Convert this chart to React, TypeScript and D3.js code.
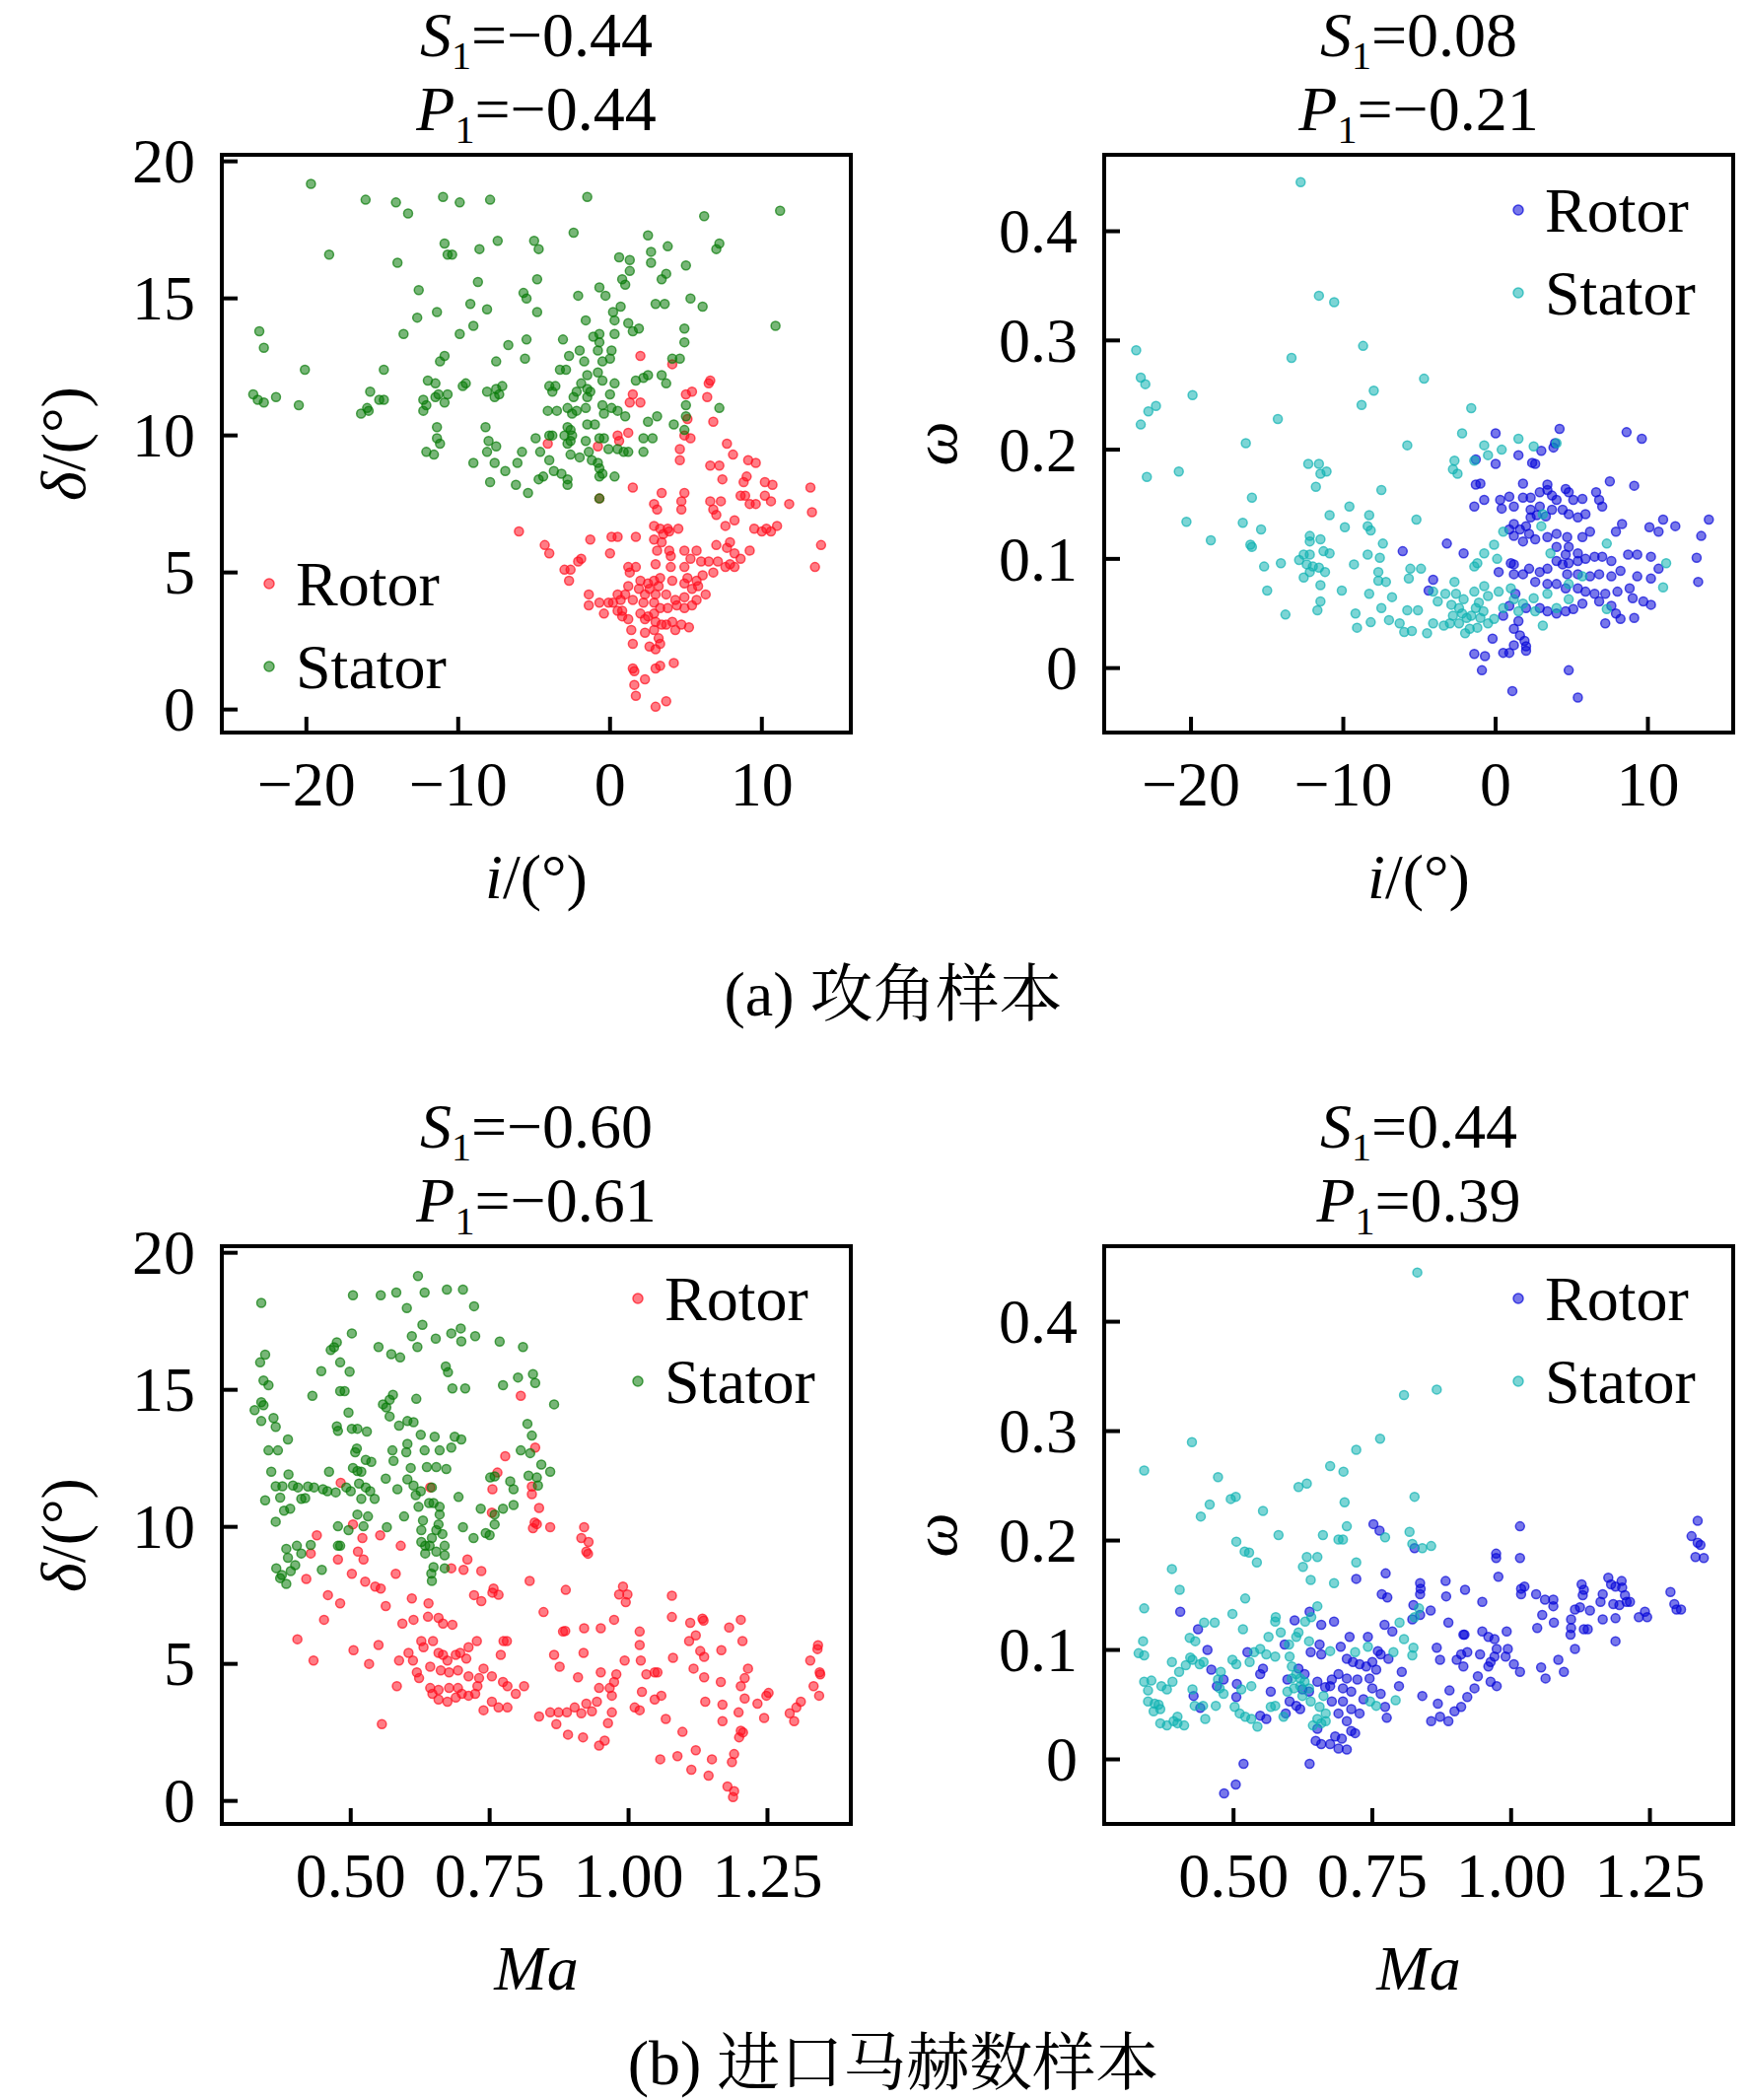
import React from 'react';
import * as d3 from 'd3';

type Pt = [number, number];

// (a) incidence samples: [i, delta] and [i, omega]
const aRotorDelta: Pt[] = [
  [2.0,12.9],[4.1,12.6],[6.5,11.9],[6.6,12.0],[6.4,11.4],[5.0,11.5],[5.4,11.6],[1.5,11.5],[1.3,11.2],[2.0,11.2],[6.8,10.5],[5.1,10.6],[4.9,10.0],[5.3,9.9],[4.6,9.5],[4.6,9.1],[1.2,10.1],[0.5,10.0],[0.6,9.8],[-0.8,9.6],[-4.1,9.7],[7.7,9.7],[8.1,9.3],[9.1,9.1],[9.6,9.0],[6.6,8.9],[7.2,8.9],[7.4,8.4],[9.0,8.5],[8.8,8.3],[10.2,8.3],[10.7,8.2],[13.2,8.1],[13.3,7.2],[11.8,7.5],[8.6,7.8],[8.9,7.8],[9.2,7.5],[9.6,7.5],[10.2,7.8],[10.6,7.6],[6.6,7.6],[7.3,7.6],[6.8,7.3],[7.0,7.1],[8.2,6.9],[7.6,6.7],[9.5,6.6],[10.0,6.5],[10.3,6.6],[11.0,6.7],[10.6,6.5],[1.5,8.1],[-0.7,7.7],[2.9,7.5],[3.4,7.9],[4.9,7.9],[4.7,7.6],[4.7,7.3],[3.1,7.3],[2.9,6.7],[3.3,6.6],[3.8,6.6],[4.5,6.6],[3.5,6.4],[3.9,6.5],[-6.0,6.5],[-1.3,6.2],[0.1,6.3],[0.5,6.3],[1.7,6.3],[2.9,6.2],[3.4,6.1],[-4.3,6.0],[-4.0,5.7],[0.0,5.7],[3.1,5.8],[3.9,5.8],[4.9,5.8],[5.7,5.8],[4.0,5.6],[7.0,6.0],[7.9,6.1],[7.7,5.9],[8.2,5.7],[9.2,5.8],[13.9,6.0],[13.5,5.2],[-2.1,5.4],[-1.9,5.5],[-3.0,5.1],[-2.6,5.1],[-2.7,4.7],[1.2,5.2],[1.7,5.2],[1.3,5.0],[3.0,5.3],[4.0,5.2],[4.9,5.2],[5.3,5.5],[6.0,5.4],[6.5,5.4],[7.1,5.4],[7.9,5.3],[8.6,5.5],[7.6,5.2],[8.2,5.2],[6.8,5.0],[6.1,4.9],[5.7,4.7],[5.1,4.8],[5.8,4.5],[5.4,4.4],[4.9,4.6],[4.1,4.7],[3.3,4.8],[2.9,4.7],[3.2,4.5],[2.5,4.6],[2.0,4.7],[1.9,4.4],[2.6,4.4],[3.0,4.2],[2.3,4.2],[1.2,4.5],[1.0,4.2],[0.5,4.2],[0.2,3.9],[0.7,4.0],[1.5,4.0],[2.2,3.9],[2.9,3.9],[3.7,4.2],[4.3,4.0],[4.9,4.1],[5.7,4.0],[6.3,4.2],[5.4,3.8],[4.9,3.7],[4.4,3.8],[3.8,3.7],[3.3,3.7],[-1.4,4.2],[-1.4,3.8],[-0.7,3.9],[-0.1,3.9],[-0.4,3.5],[0.5,3.6],[0.8,3.6],[0.8,3.4],[1.2,3.3],[2.0,3.5],[2.5,3.4],[2.3,3.3],[2.9,3.5],[3.0,3.2],[3.7,3.1],[3.4,3.1],[4.1,3.2],[4.7,3.1],[5.2,3.0],[1.4,2.9],[2.3,2.8],[2.9,2.9],[3.2,2.6],[4.3,2.9],[3.3,2.4],[3.0,2.2],[2.6,2.3],[1.5,2.4],[1.5,1.5],[1.6,1.4],[2.3,1.1],[3.0,1.5],[3.3,1.6],[4.2,1.7],[1.6,0.9],[1.7,0.5],[3.0,0.1],[3.7,0.3],
];

const aStatorDelta: Pt[] = [
  [-19.7,19.18],[-16.1,18.6],[-14.1,18.5],[-13.3,18.1],[-11.0,18.7],[-9.9,18.5],[-7.9,18.6],[-1.5,18.7],[6.2,18.0],[11.2,18.2],[-18.5,16.6],[-14.0,16.3],[-10.9,17.0],[-10.7,16.6],[-10.4,16.6],[-8.6,16.8],[-7.4,17.1],[-5.0,17.1],[-4.7,16.8],[-2.4,17.4],[2.5,17.3],[3.8,16.9],[2.7,16.7],[2.7,16.3],[0.6,16.5],[1.3,16.4],[1.3,16.0],[0.8,15.7],[1.0,15.5],[5.0,16.2],[3.7,15.9],[3.4,15.7],[7.0,16.8],[7.2,17.0],[-8.7,15.6],[-4.8,15.7],[-12.6,15.3],[-5.7,15.2],[-5.5,15.0],[-9.2,14.8],[-8.1,14.6],[-11.4,14.5],[-12.7,14.3],[-4.8,14.5],[-2.1,15.1],[-0.7,15.4],[-0.3,15.1],[3.0,14.8],[3.6,14.8],[5.3,15.0],[6.1,14.7],[10.9,14.0],[-23.1,13.8],[-22.8,13.2],[-13.6,13.7],[-9.9,13.7],[-9.0,14.0],[-1.6,14.2],[0.2,14.5],[0.7,14.7],[0.3,14.2],[1.2,14.1],[1.9,13.9],[1.5,13.8],[4.9,13.9],[4.9,13.4],[-6.7,13.3],[-5.5,13.5],[-3.1,13.5],[-1.1,13.6],[-0.7,13.7],[0.3,13.7],[-0.7,13.4],[-0.8,13.1],[0.1,13.1],[-2.0,13.1],[-2.7,12.9],[-0.5,12.7],[0.0,12.8],[-1.7,12.7],[-5.6,12.8],[-7.5,12.7],[-10.9,12.9],[-11.2,12.7],[-20.1,12.4],[-14.9,12.4],[-3.3,12.4],[-2.9,12.4],[4.1,12.8],[4.6,12.8],[2.5,12.2],[2.2,12.1],[1.7,12.0],[3.4,12.2],[3.7,11.9],[-1.5,12.2],[-0.8,12.3],[-0.5,12.0],[0.3,11.9],[-1.9,11.9],[-1.5,11.7],[-4.0,11.8],[-3.6,11.8],[-3.8,11.6],[-2.4,11.4],[-2.2,11.6],[-1.3,11.6],[0.0,11.5],[-1.5,11.4],[-9.7,11.8],[-9.5,11.9],[-8.1,11.6],[-7.5,11.7],[-7.3,11.5],[-7.6,11.4],[-7.1,11.8],[-23.5,11.5],[-23.2,11.3],[-22.8,11.2],[-22.0,11.4],[-20.5,11.1],[-15.8,11.6],[-15.2,11.3],[-14.9,11.3],[-16.0,11.0],[-16.4,10.8],[-15.9,10.9],[-12.3,11.3],[-12.1,11.1],[-11.5,11.4],[-11.3,11.5],[-10.9,11.2],[-10.7,11.5],[-12.3,10.9],[-12.0,12.0],[-11.5,11.9],[-4.1,10.9],[-3.5,10.9],[-2.8,11.0],[-2.5,10.8],[-2.2,10.9],[-1.6,11.0],[-0.5,11.1],[-0.4,10.8],[0.1,11.0],[0.5,10.9],[1.0,10.7],[5.0,11.1],[7.2,11.0],[5.0,10.7],[2.5,10.5],[3.1,10.7],[4.2,10.4],[4.9,10.2],[-2.8,10.3],[-2.6,10.2],[-2.5,10.0],[-3.0,10.0],[-2.6,9.8],[-2.8,9.7],[-1.5,10.4],[-1.0,10.4],[-4.0,10.0],[-3.8,10.0],[-4.9,9.9],[-11.4,10.3],[-11.4,9.9],[-11.2,9.7],[-12.1,9.4],[-11.6,9.3],[-8.2,10.3],[-8.0,9.8],[-7.5,9.6],[-8.1,9.4],[-9.0,9.0],[-7.6,9.0],[-6.9,8.7],[-6.2,8.2],[-5.4,7.9],[-5.8,9.4],[-6.1,9.0],[-4.6,9.4],[-4.0,9.1],[-2.6,9.3],[-2.0,9.2],[-1.4,9.4],[-1.2,9.1],[-0.8,9.0],[-0.7,9.9],[-0.4,9.9],[-1.6,9.8],[-0.1,9.5],[0.5,9.5],[0.9,9.4],[1.2,9.4],[2.2,9.4],[2.2,9.9],[2.8,9.9],[-0.7,8.8],[-0.7,8.5],[-0.5,8.6],[0.3,8.5],[-3.7,8.7],[-3.2,8.6],[-2.8,8.4],[-2.8,8.2],[-4.7,8.4],[-4.4,8.5],[-7.9,8.3],[-0.7,7.7],
];

const aRotorOmega: Pt[] = [
  [0.0,0.215],[4.2,0.219],[8.6,0.216],[9.6,0.210],[1.5,0.195],[0.0,0.187],[2.6,0.187],[2.4,0.188],[3.0,0.199],[3.8,0.202],[3.9,0.206],[-1.3,0.191],[-1.3,0.168],[-1.0,0.169],[1.8,0.169],[3.4,0.168],[7.5,0.171],[9.1,0.167],[-1.4,0.148],[-0.75,0.154],[0.3,0.154],[0.4,0.146],[0.9,0.157],[1.2,0.148],[1.8,0.156],[2.3,0.156],[2.9,0.161],[3.4,0.163],[3.7,0.158],[4.0,0.154],[4.6,0.164],[4.8,0.161],[5.1,0.154],[5.7,0.155],[6.6,0.161],[6.8,0.154],[7.0,0.148],[2.3,0.145],[2.9,0.148],[2.7,0.140],[2.3,0.138],[3.3,0.139],[3.7,0.145],[4.4,0.145],[4.8,0.141],[5.4,0.138],[5.9,0.141],[1.2,0.132],[0.9,0.127],[1.6,0.127],[2.0,0.130],[2.2,0.123],[1.2,0.121],[1.8,0.116],[2.6,0.118],[3.4,0.120],[4.0,0.123],[4.7,0.120],[5.7,0.120],[6.2,0.125],[7.9,0.125],[8.3,0.132],[10.1,0.129],[10.7,0.125],[11.0,0.136],[11.8,0.130],[14.0,0.136],[13.5,0.121],[-3.2,0.114],[-6.1,0.107],[-2.1,0.105],[4.0,0.111],[4.8,0.111],[5.4,0.105],[4.6,0.104],[4.0,0.098],[4.4,0.095],[4.8,0.096],[5.4,0.098],[5.9,0.100],[6.5,0.102],[7.0,0.102],[7.6,0.098],[8.7,0.104],[9.3,0.104],[10.2,0.102],[13.2,0.101],[13.3,0.079],[10.7,0.091],[10.2,0.082],[9.3,0.084],[8.2,0.089],[7.6,0.084],[6.8,0.086],[6.2,0.084],[5.4,0.086],[4.7,0.086],[3.4,0.091],[2.9,0.088],[2.2,0.091],[1.2,0.095],[1.0,0.096],[0.2,0.088],[1.2,0.086],[1.8,0.086],[2.6,0.079],[3.4,0.077],[4.0,0.077],[4.6,0.073],[5.4,0.073],[5.9,0.070],[6.5,0.068],[7.2,0.068],[8.0,0.070],[8.8,0.073],[9.0,0.064],[9.7,0.061],[10.2,0.058],[7.9,0.050],[8.2,0.045],[7.2,0.041],[9.1,0.046],[7.6,0.057],[6.8,0.061],[5.7,0.059],[5.1,0.054],[4.6,0.052],[4.0,0.050],[3.4,0.052],[2.9,0.055],[2.0,0.055],[1.3,0.068],[0.9,0.057],[0.5,0.048],[-4.1,0.081],[-4.4,0.071],[1.5,0.043],[1.2,0.036],[-0.2,0.027],[1.6,0.030],[1.9,0.025],[2.0,0.020],[2.0,0.016],[1.2,0.021],[0.5,0.014],[0.9,0.014],[-1.4,0.013],[-0.7,0.011],[-0.9,-0.002],[1.1,-0.021],[4.8,-0.002],[5.4,-0.027],
];

const aStatorOmega: Pt[] = [
  [-12.8,0.445],[-11.6,0.341],[-10.6,0.335],[-23.6,0.291],[-13.4,0.284],[-8.7,0.295],[-23.3,0.266],[-23.0,0.260],[-19.9,0.250],[-22.3,0.240],[-22.8,0.235],[-23.3,0.223],[-8.0,0.254],[-8.8,0.241],[-4.7,0.265],[-14.3,0.228],[-1.6,0.238],[-16.4,0.206],[-5.8,0.204],[-2.2,0.215],[-0.75,0.204],[-0.5,0.195],[0.4,0.200],[1.5,0.210],[2.5,0.203],[4.0,0.206],[-2.7,0.190],[-2.8,0.182],[-2.5,0.178],[-1.4,0.190],[-12.3,0.187],[-11.6,0.187],[-11.1,0.180],[-11.5,0.178],[-22.9,0.175],[-20.8,0.180],[-11.8,0.166],[-7.5,0.163],[-16.0,0.156],[-9.6,0.148],[-10.9,0.140],[-8.3,0.140],[-5.2,0.136],[-20.3,0.134],[-16.6,0.133],[-15.4,0.127],[-9.9,0.129],[-8.4,0.130],[-8.2,0.126],[-18.7,0.117],[-16.1,0.113],[-16.0,0.111],[-12.2,0.121],[-12.2,0.116],[-11.5,0.118],[-7.4,0.114],[-11.3,0.107],[-10.9,0.105],[-12.6,0.104],[-12.2,0.104],[-12.9,0.099],[-12.4,0.095],[-12.0,0.093],[-11.6,0.092],[-11.2,0.088],[-12.2,0.088],[-12.6,0.083],[-11.5,0.076],[-8.4,0.104],[-7.6,0.101],[-7.7,0.088],[-7.7,0.080],[-7.2,0.079],[-14.1,0.096],[-15.2,0.093],[-15.0,0.071],[-13.8,0.049],[-11.5,0.061],[-11.7,0.053],[-10.1,0.071],[-9.3,0.095],[-8.3,0.068],[-7.5,0.055],[-9.2,0.050],[-9.1,0.037],[-8.2,0.042],[-6.8,0.065],[-7.0,0.044],[-6.3,0.041],[-6.0,0.033],[-5.8,0.053],[-5.6,0.091],[-4.9,0.091],[-5.7,0.082],[-5.1,0.053],[-5.5,0.034],[-4.5,0.032],[-4.1,0.041],[-3.8,0.061],[-4.1,0.070],[-3.3,0.068],[-2.7,0.079],[-2.6,0.068],[-2.1,0.063],[-2.4,0.055],[-2.8,0.048],[-3.0,0.041],[-3.4,0.039],[-2.4,0.041],[-1.9,0.046],[-1.7,0.036],[-2.0,0.032],[-1.2,0.037],[-1.0,0.046],[-0.5,0.041],[-0.1,0.045],[-1.3,0.055],[-1.4,0.070],[-0.75,0.075],[-0.5,0.066],[0.2,0.070],[1.0,0.073],[1.2,0.063],[1.5,0.052],[1.8,0.059],[2.6,0.052],[3.1,0.039],[2.5,0.064],[3.4,0.068],[4.8,0.077],[4.8,0.063],[4.0,0.055],[5.7,0.084],[7.3,0.114],[7.3,0.054],[11.2,0.096],[11.0,0.074],[-0.1,0.113],[0.5,0.125],[-0.75,0.105],[-1.2,0.096],[-1.4,0.093],[0.1,0.100],[3.6,0.105],[3.1,0.141],[3.0,0.130],[-2.2,0.050],[-1.6,0.048],[-0.8,0.052],[-2.9,0.058],[-1.1,0.060],[0.5,0.055],
];

// (b) inlet Mach number samples: [Ma, delta] and [Ma, omega]
const bRotorDelta: Pt[] = [
  [0.806,14.78],[0.832,12.89],[0.778,12.58],[0.764,11.98],[0.755,11.37],[0.754,10.52],[0.826,11.47],[0.826,11.19],[0.839,10.69],[0.831,10.16],[0.828,9.95],[0.835,10.1],[0.859,9.99],[0.920,9.99],[0.915,9.59],[0.928,9.45],[0.924,9.10],[0.927,9.02],[0.643,11.44],[0.482,11.61],[0.504,10.09],[0.439,9.69],[0.521,9.59],[0.553,9.69],[0.590,9.31],[0.428,9.03],[0.477,8.81],[0.513,9.10],[0.523,8.81],[0.420,8.10],[0.502,8.29],[0.526,8.00],[0.544,7.82],[0.554,7.75],[0.581,8.29],[0.681,8.49],[0.703,8.43],[0.710,8.81],[0.735,8.39],[0.822,8.03],[0.757,7.75],[0.755,7.60],[0.766,7.52],[0.722,7.51],[0.735,7.29],[0.459,7.51],[0.481,7.21],[0.563,7.11],[0.610,7.39],[0.640,7.21],[0.452,6.61],[0.404,5.90],[0.433,5.12],[0.505,5.50],[0.533,5.00],[0.550,5.69],[0.556,2.80],[0.583,4.19],[0.593,6.47],[0.613,6.61],[0.639,6.72],[0.658,6.68],[0.666,6.47],[0.683,6.43],[0.627,5.83],[0.631,5.61],[0.648,5.83],[0.604,5.40],[0.587,5.12],[0.612,5.12],[0.619,4.69],[0.623,4.48],[0.643,4.90],[0.658,5.40],[0.666,5.33],[0.674,5.12],[0.689,5.33],[0.697,5.40],[0.708,5.19],[0.712,5.61],[0.727,5.83],[0.775,5.83],[0.781,5.83],[0.770,5.33],[0.662,4.76],[0.677,4.69],[0.693,4.76],[0.712,4.55],[0.731,4.48],[0.739,4.83],[0.754,4.55],[0.774,4.34],[0.782,4.19],[0.812,4.19],[0.643,4.12],[0.658,4.05],[0.677,4.12],[0.693,4.12],[0.700,3.91],[0.712,3.84],[0.724,3.91],[0.728,4.19],[0.647,3.91],[0.658,3.70],[0.674,3.62],[0.689,3.77],[0.754,3.62],[0.739,3.31],[0.766,3.41],[0.782,3.41],[0.797,3.91],[0.839,3.08],[0.859,3.23],[0.874,3.23],[0.889,3.23],[0.903,3.41],[0.915,3.20],[0.924,3.55],[0.934,3.27],[0.943,3.62],[0.947,4.12],[0.950,4.69],[0.966,4.12],[0.970,3.84],[0.974,4.34],[0.978,4.62],[0.970,3.23],[0.963,2.84],[0.957,2.20],[0.947,2.02],[0.870,2.80],[0.891,2.42],[0.918,2.32],[0.866,5.33],[0.876,4.90],[0.909,4.51],[0.919,5.40],[0.882,6.18],[0.886,6.2],[0.920,6.30],[0.950,6.30],[0.974,6.61],[0.990,7.82],[0.983,7.53],[0.998,7.53],[0.995,7.25],[0.887,7.70],[0.847,6.89],[0.993,5.12],[1.020,6.18],[1.020,5.69],[1.022,5.12],[1.024,3.98],[1.032,4.62],[1.011,3.41],[1.020,3.31],[1.047,4.69],[1.052,4.69],[1.047,3.70],[1.059,3.84],[1.067,2.99],[1.078,7.49],[1.078,6.71],[1.080,5.22],[1.097,2.52],[1.111,6.50],[1.133,6.65],[1.135,6.58],[1.109,5.83],[1.121,6.04],[1.129,5.47],[1.136,5.26],[1.117,4.83],[1.136,4.51],[1.138,3.62],[1.167,5.50],[1.166,4.34],[1.169,3.51],[1.169,2.91],[1.181,6.33],[1.202,6.61],[1.205,5.83],[1.215,4.83],[1.209,4.48],[1.202,4.19],[1.209,3.74],[1.198,3.23],[1.202,2.56],[1.206,2.50],[1.199,2.32],[1.190,1.71],[1.186,1.42],[1.178,0.53],[1.190,0.36],[1.188,0.14],[1.057,1.52],[1.088,1.63],[1.121,1.85],[1.113,1.14],[1.144,0.92],[1.150,1.52],[1.232,3.55],[1.248,3.84],[1.252,3.94],[1.244,3.03],[1.290,3.20],[1.302,3.41],[1.310,3.62],[1.298,2.91],[1.327,5.12],[1.333,4.19],[1.340,5.54],[1.341,5.68],[1.344,4.69],[1.345,4.62],[1.343,3.84],
];

const bStatorDelta: Pt[] = [
  [0.339,18.17],[0.504,18.45],[0.554,18.45],[0.582,18.55],[0.621,19.15],[0.633,18.55],[0.673,18.66],[0.702,18.66],[0.722,18.05],[0.601,17.98],[0.502,17.06],[0.629,17.37],[0.610,16.96],[0.620,16.56],[0.653,16.87],[0.681,17.06],[0.698,17.24],[0.699,16.77],[0.724,16.96],[0.768,16.76],[0.810,16.56],[0.550,16.56],[0.573,16.30],[0.589,16.18],[0.475,16.73],[0.470,16.55],[0.464,16.45],[0.346,16.28],[0.337,16.0],[0.481,16.0],[0.447,15.68],[0.498,15.66],[0.671,15.85],[0.675,15.64],[0.801,15.45],[0.828,15.57],[0.832,15.25],[0.774,15.17],[0.683,15.05],[0.706,15.05],[0.343,15.34],[0.352,15.17],[0.431,14.78],[0.481,14.95],[0.489,14.95],[0.618,14.67],[0.576,14.82],[0.570,14.64],[0.558,14.47],[0.564,14.36],[0.866,14.47],[0.339,14.55],[0.343,14.44],[0.327,14.26],[0.339,13.86],[0.361,13.97],[0.365,13.65],[0.496,14.17],[0.570,14.03],[0.587,13.69],[0.602,13.86],[0.613,13.82],[0.475,13.67],[0.477,13.50],[0.502,13.58],[0.512,13.58],[0.529,13.48],[0.626,13.36],[0.651,13.29],[0.687,13.29],[0.699,13.19],[0.818,13.76],[0.826,13.33],[0.387,13.19],[0.352,12.79],[0.369,12.79],[0.508,12.72],[0.511,12.86],[0.575,12.79],[0.602,13.03],[0.600,12.72],[0.633,12.79],[0.660,12.79],[0.681,12.89],[0.806,12.79],[0.823,12.69],[0.527,12.44],[0.537,12.37],[0.504,12.15],[0.512,12.04],[0.519,12.01],[0.577,12.41],[0.608,12.15],[0.637,12.18],[0.654,12.18],[0.672,12.11],[0.461,12.01],[0.357,12.01],[0.388,11.91],[0.365,11.48],[0.377,11.48],[0.396,11.51],[0.405,11.44],[0.423,11.47],[0.434,11.44],[0.450,11.37],[0.458,11.30],[0.473,11.26],[0.492,11.44],[0.500,11.30],[0.515,11.58],[0.527,11.44],[0.535,11.30],[0.543,11.02],[0.519,11.02],[0.563,11.76],[0.584,11.37],[0.602,11.73],[0.613,11.51],[0.626,11.30],[0.646,11.44],[0.617,11.16],[0.649,10.87],[0.641,10.87],[0.660,10.73],[0.660,10.45],[0.622,10.73],[0.630,10.23],[0.694,11.09],[0.346,10.97],[0.373,11.07],[0.411,11.02],[0.418,11.05],[0.380,10.59],[0.391,10.66],[0.365,10.19],[0.512,10.45],[0.531,10.38],[0.596,10.38],[0.565,9.99],[0.496,9.88],[0.523,10.02],[0.477,10.02],[0.751,11.80],[0.759,11.84],[0.787,11.66],[0.793,11.37],[0.820,11.87],[0.835,11.80],[0.837,11.51],[0.843,12.27],[0.859,12.01],[0.734,10.66],[0.774,10.66],[0.793,10.80],[0.759,10.45],[0.759,10.09],[0.743,9.77],[0.750,9.70],[0.721,9.59],[0.702,9.99],[0.627,9.88],[0.627,9.45],[0.634,9.31],[0.646,9.59],[0.654,9.88],[0.658,10.09],[0.665,9.74],[0.642,9.31],[0.634,9.03],[0.654,9.10],[0.669,9.31],[0.669,8.96],[0.669,8.49],[0.649,8.53],[0.646,8.03],[0.645,8.3],[0.477,9.31],[0.481,9.31],[0.384,9.20],[0.403,9.31],[0.411,9.03],[0.428,9.34],[0.387,8.87],[0.400,8.60],[0.392,8.39],[0.366,8.49],[0.376,8.24],[0.373,8.13],[0.384,7.92],[0.448,8.43],
];

const bRotorOmega: Pt[] = [
  [0.752,0.215],[0.763,0.209],[1.016,0.213],[1.336,0.218],[1.325,0.204],[1.336,0.198],[1.341,0.196],[1.332,0.185],[1.347,0.184],[0.973,0.188],[0.973,0.184],[1.016,0.184],[0.826,0.193],[0.774,0.170],[0.721,0.165],[0.977,0.167],[0.836,0.161],[0.837,0.156],[0.836,0.151],[0.882,0.163],[0.883,0.149],[0.917,0.155],[0.948,0.144],[1.018,0.156],[1.024,0.158],[1.018,0.151],[1.045,0.151],[1.061,0.146],[1.076,0.146],[1.076,0.140],[1.056,0.132],[1.077,0.125],[1.047,0.120],[1.127,0.160],[1.131,0.155],[1.129,0.150],[1.175,0.166],[1.180,0.160],[1.188,0.158],[1.199,0.163],[1.200,0.157],[1.205,0.150],[1.208,0.144],[1.195,0.141],[1.184,0.142],[1.214,0.144],[1.165,0.151],[1.161,0.144],[1.115,0.137],[1.124,0.139],[1.142,0.136],[1.108,0.128],[1.108,0.120],[1.107,0.114],[1.131,0.119],[1.138,0.119],[1.115,0.101],[1.165,0.128],[1.188,0.129],[1.188,0.108],[1.230,0.130],[1.245,0.130],[1.241,0.135],[1.287,0.153],[1.294,0.142],[1.298,0.137],[1.306,0.137],[0.824,0.141],[0.822,0.128],[0.836,0.132],[0.855,0.136],[0.887,0.125],[0.916,0.114],[0.948,0.117],[0.959,0.112],[0.970,0.110],[0.992,0.117],[0.994,0.101],[0.974,0.101],[0.970,0.094],[0.963,0.089],[0.959,0.085],[0.990,0.094],[1.005,0.087],[1.016,0.080],[1.054,0.084],[1.062,0.074],[1.085,0.091],[1.095,0.080],[0.914,0.114],[0.910,0.096],[0.921,0.098],[0.902,0.091],[0.914,0.085],[0.872,0.091],[0.866,0.102],[0.944,0.096],[0.940,0.076],[0.963,0.071],[0.974,0.067],[0.934,0.065],[0.921,0.057],[0.910,0.048],[0.898,0.044],[0.887,0.035],[0.872,0.039],[0.856,0.035],[0.868,0.051],[0.889,0.063],[0.840,0.058],[0.798,0.067],[0.803,0.080],[0.779,0.092],[0.765,0.096],[0.760,0.099],[0.742,0.112],[0.772,0.123],[0.786,0.117],[0.767,0.151],[0.777,0.148],[0.709,0.112],[0.681,0.126],[0.658,0.123],[0.637,0.135],[0.610,0.127],[0.592,0.105],[0.655,0.105],[0.639,0.098],[0.658,0.096],[0.693,0.103],[0.704,0.092],[0.715,0.089],[0.727,0.087],[0.739,0.085],[0.750,0.089],[0.757,0.082],[0.745,0.074],[0.723,0.073],[0.704,0.074],[0.689,0.078],[0.677,0.073],[0.674,0.067],[0.697,0.065],[0.712,0.062],[0.750,0.065],[0.765,0.060],[0.734,0.055],[0.712,0.046],[0.697,0.053],[0.677,0.053],[0.689,0.042],[0.704,0.035],[0.727,0.042],[0.773,0.048],[0.776,0.038],[0.624,0.064],[0.636,0.062],[0.651,0.071],[0.665,0.066],[0.617,0.083],[0.628,0.078],[0.597,0.073],[0.601,0.053],[0.613,0.049],[0.620,0.046],[0.594,0.042],[0.567,0.062],[0.559,0.037],[0.548,0.040],[0.548,0.078],[0.553,0.083],[0.525,0.098],[0.506,0.069],[0.505,0.057],[0.482,0.073],[0.470,0.067],[0.460,0.082],[0.453,0.100],[0.436,0.119],[0.404,0.135],[0.428,0.058],[0.440,0.047],[0.651,0.028],[0.648,0.017],[0.658,0.014],[0.674,0.014],[0.689,0.010],[0.704,0.009],[0.695,0.019],[0.683,0.021],[0.712,0.026],[0.719,0.024],[0.637,-0.004],[0.518,-0.004],[0.504,-0.023],[0.483,-0.031],
];

const bStatorOmega: Pt[] = [
  [0.831,0.445],[0.807,0.333],[0.866,0.338],[0.425,0.290],[0.339,0.264],[0.472,0.258],[0.764,0.293],[0.721,0.283],[0.674,0.268],[0.698,0.263],[0.617,0.249],[0.632,0.252],[0.457,0.233],[0.441,0.222],[0.495,0.238],[0.504,0.240],[0.553,0.227],[0.700,0.235],[0.826,0.240],[0.581,0.205],[0.661,0.205],[0.704,0.213],[0.773,0.203],[0.817,0.208],[0.822,0.197],[0.840,0.193],[0.856,0.195],[0.505,0.199],[0.520,0.190],[0.528,0.189],[0.542,0.180],[0.689,0.201],[0.697,0.201],[0.721,0.180],[0.632,0.185],[0.651,0.185],[0.625,0.176],[0.639,0.164],[0.681,0.161],[0.389,0.174],[0.403,0.155],[0.339,0.138],[0.521,0.147],[0.498,0.133],[0.517,0.119],[0.447,0.125],[0.466,0.125],[0.575,0.126],[0.576,0.130],[0.651,0.140],[0.629,0.126],[0.640,0.130],[0.585,0.116],[0.617,0.116],[0.613,0.112],[0.563,0.112],[0.421,0.111],[0.431,0.108],[0.337,0.108],[0.329,0.097],[0.339,0.095],[0.389,0.089],[0.402,0.080],[0.414,0.086],[0.426,0.091],[0.439,0.087],[0.446,0.089],[0.422,0.093],[0.339,0.071],[0.352,0.072],[0.346,0.063],[0.370,0.067],[0.380,0.064],[0.390,0.071],[0.346,0.053],[0.358,0.051],[0.365,0.050],[0.368,0.046],[0.356,0.044],[0.368,0.033],[0.380,0.031],[0.392,0.035],[0.399,0.033],[0.411,0.031],[0.399,0.039],[0.426,0.064],[0.430,0.049],[0.445,0.049],[0.449,0.037],[0.468,0.049],[0.472,0.073],[0.477,0.080],[0.475,0.065],[0.482,0.060],[0.498,0.091],[0.505,0.087],[0.502,0.048],[0.511,0.042],[0.521,0.039],[0.532,0.037],[0.543,0.030],[0.529,0.089],[0.532,0.067],[0.514,0.064],[0.537,0.098],[0.548,0.101],[0.559,0.096],[0.575,0.094],[0.567,0.048],[0.575,0.049],[0.590,0.039],[0.601,0.094],[0.605,0.085],[0.613,0.078],[0.605,0.074],[0.620,0.074],[0.628,0.071],[0.636,0.065],[0.620,0.067],[0.609,0.065],[0.597,0.062],[0.624,0.058],[0.639,0.053],[0.655,0.048],[0.666,0.042],[0.651,0.037],[0.643,0.031],[0.666,0.035],[0.658,0.033],[0.662,0.058],[0.674,0.099],[0.719,0.098],[0.742,0.103],[0.788,0.098],[0.824,0.102],[0.822,0.095],[0.799,0.125],[0.807,0.110],[0.834,0.138],[0.826,0.130],[0.757,0.049],[0.792,0.054],[0.746,0.053],[0.636,0.108],[0.600,0.105],
];

const incTicks = [-20, -10, 0, 10];
const machTicks = [0.5, 0.75, 1.0, 1.25];
const deltaTicks = [0, 5, 10, 15, 20];
const omegaTicks = [0, 0.1, 0.2, 0.3, 0.4];

const sValues = ['\u22120.44', '0.08', '\u22120.60', '0.44'];
const pValues = ['\u22120.44', '\u22120.21', '\u22120.61', '0.39'];
const seriesNames = ['Rotor', 'Stator'];
const captions = ['(a) 攻角样本', '(b) 进口马赫数样本'];

const FONT = "'Liberation Serif', 'Times New Roman', Times, serif";
const CJK_FONT = "'Liberation Serif', 'Noto Serif CJK SC', 'Noto Sans CJK SC', serif";
const FS = 64;
const PW = 638;
const PH = 586;

const RED = '#ff1020';
const GREEN = '#087a08';
const BLUE = '#0808d8';
const CYAN = '#10b2b2';

const fmtInc = (v: number) => (v < 0 ? '\u2212' + Math.abs(v) : String(v));
const fmtMach = (v: number) => v.toFixed(2);
const fmtDelta = (v: number) => String(v);
const fmtOmega = (v: number) => (v === 0 ? '0' : v.toFixed(1));

interface PanelProps {
  x0: number;
  y0: number;
  xDomain: [number, number];
  yDomain: [number, number];
  xTicks: number[];
  yTicks: number[];
  xFmt: (v: number) => string;
  yFmt: (v: number) => string;
  rotor: Pt[];
  stator: Pt[];
  colors: [string, string];
  s: string;
  p: string;
  xLabel: React.ReactNode;
  yLabel: React.ReactNode;
  yLabelX: number;
  legend: { x: number; y: number };
}

function Panel(props: PanelProps) {
  const { x0, y0, xDomain, yDomain, xTicks, yTicks, xFmt, yFmt, rotor, stator, colors, s, p, xLabel, yLabel, yLabelX, legend } = props;
  const x = d3.scaleLinear().domain(xDomain).range([0, PW]);
  const y = d3.scaleLinear().domain(yDomain).range([PH, 0]);

  const dots = (data: Pt[], color: string, key: string) =>
    data.map((d, i) => (
      <circle
        key={key + i}
        cx={x(d[0])}
        cy={y(d[1])}
        r={4.5}
        fill={color}
        fillOpacity={0.55}
        stroke={color}
        strokeOpacity={0.7}
        strokeWidth={1.5}
      />
    ));

  return (
    <g transform={`translate(${x0},${y0})`} fontFamily={FONT} fontSize={FS}>
      {dots(rotor, colors[0], 'r')}
      {dots(stator, colors[1], 's')}

      <rect x={0} y={0} width={PW} height={PH} fill="none" stroke="#000" strokeWidth={4} />

      {yTicks.map((t) => (
        <g key={'yt' + t}>
          <line x1={0} x2={16} y1={y(t)} y2={y(t)} stroke="#000" strokeWidth={4} />
          <text x={-27} y={y(t)} dy="0.34em" textAnchor="end">
            {yFmt(t)}
          </text>
        </g>
      ))}
      {xTicks.map((t) => (
        <g key={'xt' + t}>
          <line x1={x(t)} x2={x(t)} y1={PH} y2={PH - 16} stroke="#000" strokeWidth={4} />
          <text x={x(t)} y={PH + 74} textAnchor="middle">
            {xFmt(t)}
          </text>
        </g>
      ))}

      {/* title: S1 and P1 */}
      <text x={PW / 2} y={-100} textAnchor="middle">
        <tspan fontStyle="italic">S</tspan>
        <tspan fontSize={40} dy={13}>1</tspan>
        <tspan dy={-13}>={s}</tspan>
      </text>
      <text x={PW / 2} y={-25} textAnchor="middle">
        <tspan fontStyle="italic">P</tspan>
        <tspan fontSize={40} dy={13}>1</tspan>
        <tspan dy={-13}>={p}</tspan>
      </text>

      {/* axis labels */}
      <text x={PW / 2} y={PH + 168} textAnchor="middle">
        {xLabel}
      </text>
      <text transform={`translate(${yLabelX},${PH / 2}) rotate(-90)`} textAnchor="middle">
        {yLabel}
      </text>

      {/* legend */}
      {seriesNames.map((name, i) => (
        <g key={name} transform={`translate(${legend.x},${legend.y + i * 84})`}>
          <circle cx={0} cy={0} r={5} fill={colors[i]} fillOpacity={0.55} stroke={colors[i]} strokeOpacity={0.7} strokeWidth={1.5} />
          <text x={27} y={0} dy="0.34em">
            {name}
          </text>
        </g>
      ))}
    </g>
  );
}

export default function App() {
  const incLabel = (
    <>
      <tspan fontStyle="italic">i</tspan>/(°)
    </>
  );
  const machLabel = <tspan fontStyle="italic">Ma</tspan>;
  const deltaLabel = (
    <>
      <tspan fontStyle="italic">δ</tspan>/(°)
    </>
  );
  const omegaLabel = <tspan fontStyle="italic">ω</tspan>;

  return (
    <svg
      width={1772}
      height={2130}
      viewBox="0 0 1772 2130"
      style={{ position: 'absolute', left: 0, top: 0, background: '#fff' }}
    >
      <rect width={1772} height={2130} fill="#fff" />
      <Panel
        x0={225}
        y0={157}
        xDomain={[-25.57, 15.86]}
        yDomain={[-0.84, 20.24]}
        xTicks={incTicks}
        yTicks={deltaTicks}
        xFmt={fmtInc}
        yFmt={fmtDelta}
        rotor={aRotorDelta}
        stator={aStatorDelta}
        colors={[RED, GREEN]}
        s={sValues[0]}
        p={pValues[0]}
        xLabel={incLabel}
        yLabel={deltaLabel}
        yLabelX={-139}
        legend={{ x: 48, y: 435 }}
      />
      <Panel
        x0={1120}
        y0={157}
        xDomain={[-25.7, 15.6]}
        yDomain={[-0.059, 0.47]}
        xTicks={incTicks}
        yTicks={omegaTicks}
        xFmt={fmtInc}
        yFmt={fmtOmega}
        rotor={aRotorOmega}
        stator={aStatorOmega}
        colors={[BLUE, CYAN]}
        s={sValues[1]}
        p={pValues[1]}
        xLabel={incLabel}
        yLabel={omegaLabel}
        yLabelX={-150}
        legend={{ x: 420, y: 56 }}
      />
      <Panel
        x0={225}
        y0={1264}
        xDomain={[0.268, 1.4]}
        yDomain={[-0.84, 20.24]}
        xTicks={machTicks}
        yTicks={deltaTicks}
        xFmt={fmtMach}
        yFmt={fmtDelta}
        rotor={bRotorDelta}
        stator={bStatorDelta}
        colors={[RED, GREEN]}
        s={sValues[2]}
        p={pValues[2]}
        xLabel={machLabel}
        yLabel={deltaLabel}
        yLabelX={-139}
        legend={{ x: 422, y: 53 }}
      />
      <Panel
        x0={1120}
        y0={1264}
        xDomain={[0.267, 1.4]}
        yDomain={[-0.059, 0.469]}
        xTicks={machTicks}
        yTicks={omegaTicks}
        xFmt={fmtMach}
        yFmt={fmtOmega}
        rotor={bRotorOmega}
        stator={bStatorOmega}
        colors={[BLUE, CYAN]}
        s={sValues[3]}
        p={pValues[3]}
        xLabel={machLabel}
        yLabel={omegaLabel}
        yLabelX={-150}
        legend={{ x: 420, y: 53 }}
      />
      <text x={906} y={1030} textAnchor="middle" fontFamily={CJK_FONT} fontSize={FS}>
        {captions[0]}
      </text>
      <text x={906} y={2114} textAnchor="middle" fontFamily={CJK_FONT} fontSize={FS}>
        {captions[1]}
      </text>
    </svg>
  );
}
